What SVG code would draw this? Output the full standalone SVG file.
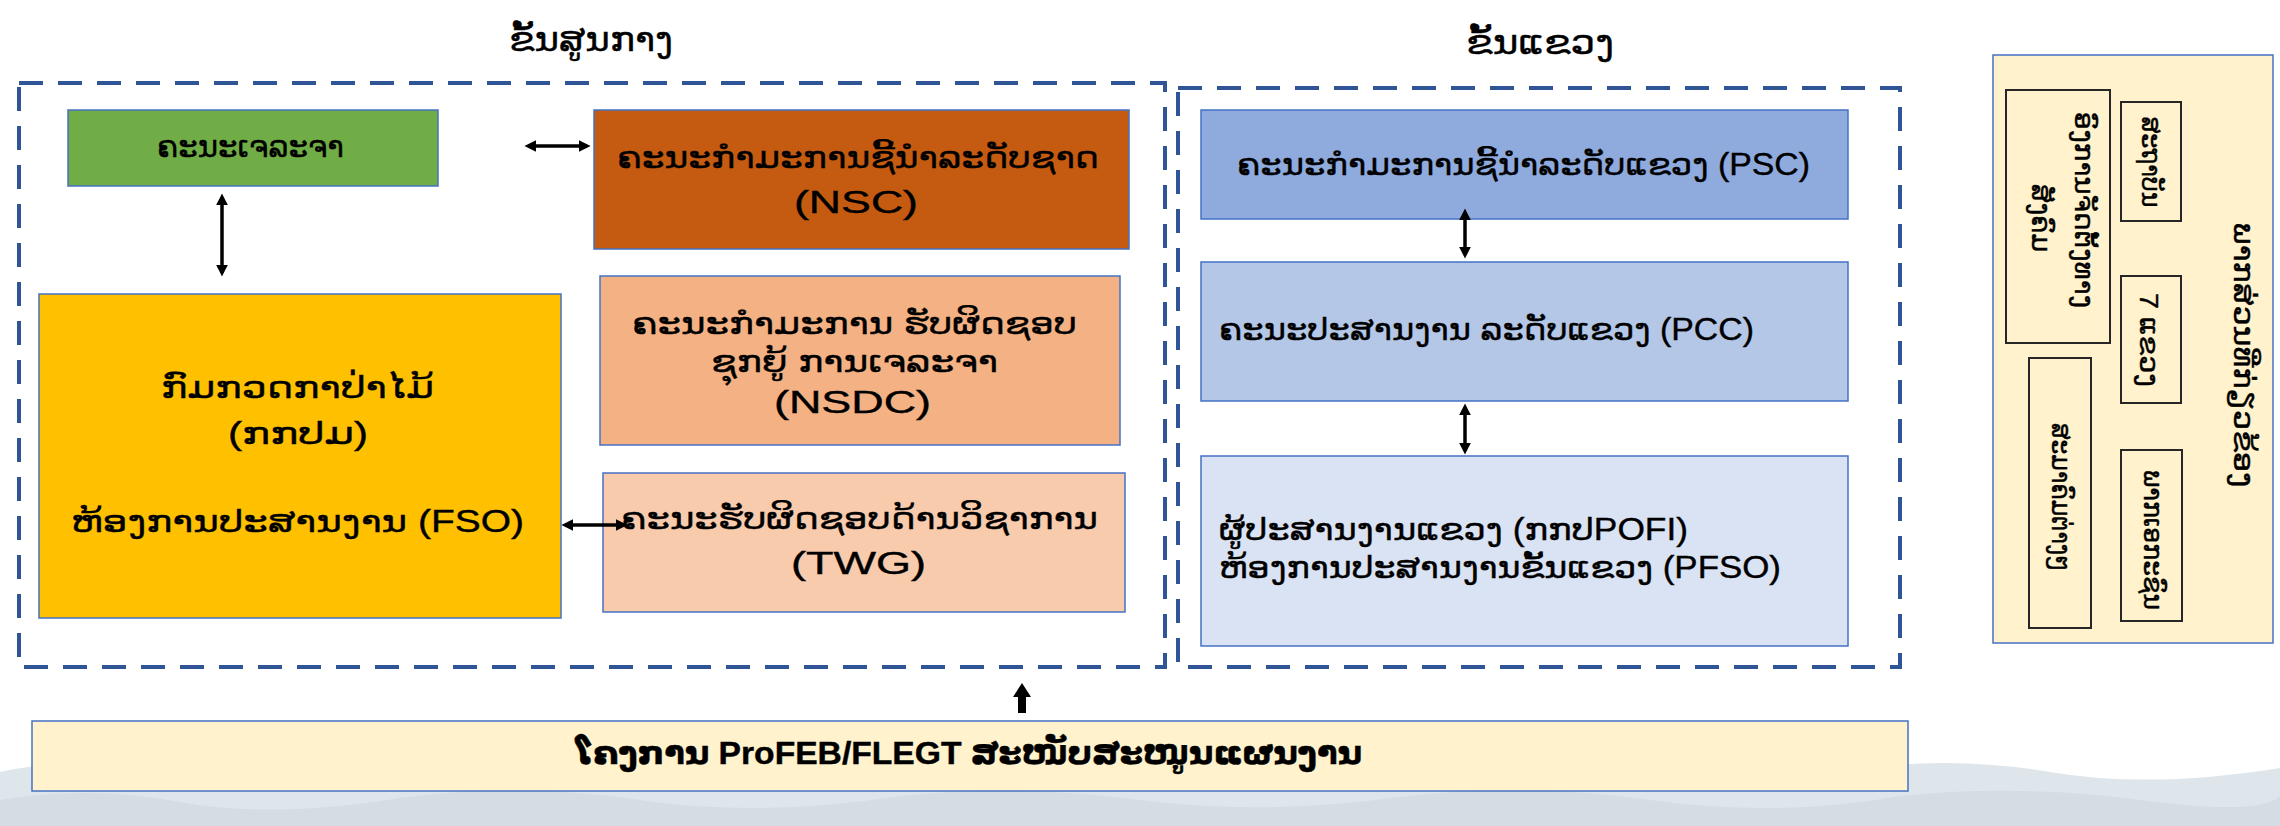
<svg xmlns="http://www.w3.org/2000/svg" width="2280" height="826" viewBox="0 0 2280 826">
<defs>
<style>
.t{font-family:"Liberation Sans","DejaVu Sans",sans-serif;font-size:31px;fill:#000;stroke:#000;stroke-width:0.4}
.ttl{font-size:34px}
.r{font-size:26px}
.rt{font-size:29px}
.b{font-weight:bold}
.box{stroke:#4472C4;stroke-width:1.5}
.ibox{fill:none;stroke:#262626;stroke-width:2}
.dash{fill:none;stroke:#2F5597;stroke-width:4;stroke-dasharray:24 15}
.con{stroke:#000;stroke-width:3.5;fill:none;marker-start:url(#ah);marker-end:url(#ah)}
</style>
<marker id="ah" viewBox="0 0 10 10" refX="7" refY="5" markerWidth="12" markerHeight="12" markerUnits="userSpaceOnUse" orient="auto-start-reverse">
<path d="M0,0 L10,5 L0,10 Z" fill="#000"/>
</marker>
</defs>
<rect width="2280" height="826" fill="#fff"/>
<g id="background">
<path d="M0 826 V772 Q60 758 120 772 T260 770 Q330 745 420 768 T600 772 Q700 758 820 775 T1000 770 Q1100 750 1200 770 T1400 768 Q1500 750 1620 772 T1850 770 Q1950 755 2050 772 T2280 768 V826 Z" fill="#dfe6eb"/>
<path d="M0 826 V800 Q90 785 180 802 T400 798 Q520 782 640 800 T900 796 Q1020 784 1140 800 T1400 797 Q1520 782 1650 800 T1900 796 Q2020 784 2140 800 T2280 796 V826 Z" fill="#cdd8df" opacity="0.7"/>
</g>
<g id="titles">
<text class="t ttl" x="509" y="51" textLength="164" lengthAdjust="spacingAndGlyphs">ຂັ້ນສູນກາງ</text>
<text class="t ttl" x="1466" y="54" textLength="148" lengthAdjust="spacingAndGlyphs">ຂັ້ນແຂວງ</text>
</g>
<g id="central-frame"><rect class="dash" x="19" y="83" width="1146" height="584"/></g>
<g id="province-frame"><rect class="dash" x="1178" y="88" width="722" height="579"/></g>
<g id="negotiation-team">
<rect class="box" x="68" y="110" width="370" height="76" fill="#70AD47"/>
<text class="t" x="157" y="157" textLength="187" lengthAdjust="spacingAndGlyphs">ຄະນະເຈລະຈາ</text>
</g>
<g id="nsc">
<rect class="box" x="594" y="110" width="535" height="139" fill="#C55A11"/>
<text class="t" x="617" y="168" textLength="482" lengthAdjust="spacingAndGlyphs">ຄະນະກຳມະການຊີ້ນຳລະດັບຊາດ</text>
<text class="t" x="794" y="213" textLength="124" lengthAdjust="spacingAndGlyphs">(NSC)</text>
</g>
<g id="nsdc">
<rect class="box" x="600" y="276" width="520" height="169" fill="#F4B183"/>
<text class="t" x="632" y="334" textLength="445" lengthAdjust="spacingAndGlyphs">ຄະນະກຳມະການ ຮັບຜິດຊອບ</text>
<text class="t" x="711" y="372" textLength="287" lengthAdjust="spacingAndGlyphs">ຊຸກຍູ້ ການເຈລະຈາ</text>
<text class="t" x="774" y="413" textLength="157" lengthAdjust="spacingAndGlyphs">(NSDC)</text>
</g>
<g id="dofi-fso">
<rect class="box" x="39" y="294" width="522" height="324" fill="#FFC000"/>
<text class="t" x="161" y="398" textLength="273" lengthAdjust="spacingAndGlyphs">ກົມກວດກາປ່າໄມ້</text>
<text class="t" x="228" y="444" textLength="140" lengthAdjust="spacingAndGlyphs">(ກກປມ)</text>
<text class="t" x="71" y="532" textLength="453" lengthAdjust="spacingAndGlyphs">ຫ້ອງການປະສານງານ (FSO)</text>
</g>
<g id="twg">
<rect class="box" x="603" y="473" width="522" height="139" fill="#F8CBAD"/>
<text class="t" x="621" y="529" textLength="477" lengthAdjust="spacingAndGlyphs">ຄະນະຮັບຜິດຊອບດ້ານວິຊາການ</text>
<text class="t" x="791" y="574" textLength="135" lengthAdjust="spacingAndGlyphs">(TWG)</text>
</g>
<g id="psc">
<rect class="box" x="1201" y="110" width="647" height="109" fill="#8FAADC"/>
<text class="t" x="1237" y="175" textLength="573" lengthAdjust="spacingAndGlyphs">ຄະນະກຳມະການຊີ້ນຳລະດັບແຂວງ (PSC)</text>
</g>
<g id="pcc">
<rect class="box" x="1201" y="262" width="647" height="139" fill="#B4C7E7"/>
<text class="t" x="1219" y="340" textLength="535" lengthAdjust="spacingAndGlyphs">ຄະນະປະສານງານ ລະດັບແຂວງ (PCC)</text>
</g>
<g id="pfso">
<rect class="box" x="1201" y="456" width="647" height="190" fill="#DAE3F3"/>
<text class="t" x="1219" y="540" textLength="469" lengthAdjust="spacingAndGlyphs">ຜູ້ປະສານງານແຂວງ (ກກປPOFI)</text>
<text class="t" x="1219" y="578" textLength="562" lengthAdjust="spacingAndGlyphs">ຫ້ອງການປະສານງານຂັ້ນແຂວງ (PFSO)</text>
</g>
<g id="support-bar">
<rect class="box" x="32" y="721" width="1876" height="70" fill="#FFF2CC" stroke-width="2"/>
<text class="t b" x="576" y="764" textLength="786" lengthAdjust="spacingAndGlyphs">ໂຄງການ ProFEB/FLEGT ສະໜັບສະໜູນແຜນງານ</text>
</g>
<g id="stakeholders">
<rect class="box" x="1993" y="55" width="280" height="588" fill="#FFF2CC" stroke-width="2"/>
<text class="t rt" x="2243" y="355" text-anchor="middle" dy="9" transform="rotate(90 2243 355)" textLength="265" lengthAdjust="spacingAndGlyphs">ພາກສ່ວນທີ່ກ່ຽວຂ້ອງ</text>
</g>
<g id="institutes">
<rect class="ibox" x="2121" y="102" width="60" height="119"/>
<text class="t r" x="2150" y="162" text-anchor="middle" dy="8" transform="rotate(90 2150 162)" textLength="91" lengthAdjust="spacingAndGlyphs">ສະຖາບັນ</text>
</g>
<g id="provinces">
<rect class="ibox" x="2121" y="276" width="60" height="127"/>
<text class="t r" x="2148" y="340" text-anchor="middle" dy="8" transform="rotate(90 2148 340)" textLength="94" lengthAdjust="spacingAndGlyphs">7 ແຂວງ</text>
</g>
<g id="private-sector">
<rect class="ibox" x="2121" y="450" width="61" height="171"/>
<text class="t r" x="2152" y="540" text-anchor="middle" dy="8" transform="rotate(90 2152 540)" textLength="140" lengthAdjust="spacingAndGlyphs">ພາກເອກະຊົນ</text>
</g>
<g id="associations">
<rect class="ibox" x="2029" y="358" width="62" height="270"/>
<text class="t r" x="2060" y="497" text-anchor="middle" dy="8" transform="rotate(90 2060 497)" textLength="148" lengthAdjust="spacingAndGlyphs">ສະມາຄົມຕ່າງໆ</text>
</g>
<g id="civil-society">
<rect class="ibox" x="2006" y="90" width="104" height="253"/>
<text class="t r" x="2083" y="210" text-anchor="middle" dy="8" transform="rotate(90 2083 210)" textLength="196" lengthAdjust="spacingAndGlyphs">ອົງການຈັດຕັ້ງທາງ</text>
<text class="t r" x="2040" y="218" text-anchor="middle" dy="8" transform="rotate(90 2040 218)" textLength="68" lengthAdjust="spacingAndGlyphs">ສັງຄົມ</text>
</g>
<g id="connectors">
<line class="con" x1="528" y1="146" x2="587" y2="146"/>
<line class="con" x1="222" y1="197" x2="222" y2="273"/>
<line class="con" x1="565" y1="525" x2="624" y2="525"/>
<line class="con" x1="1465" y1="212" x2="1465" y2="255"/>
<line class="con" x1="1465" y1="407" x2="1465" y2="451"/>
<polygon points="1022,683 1031,697 1026,697 1026,713 1018,713 1018,697 1013,697" fill="#000"/>
</g>
</svg>
